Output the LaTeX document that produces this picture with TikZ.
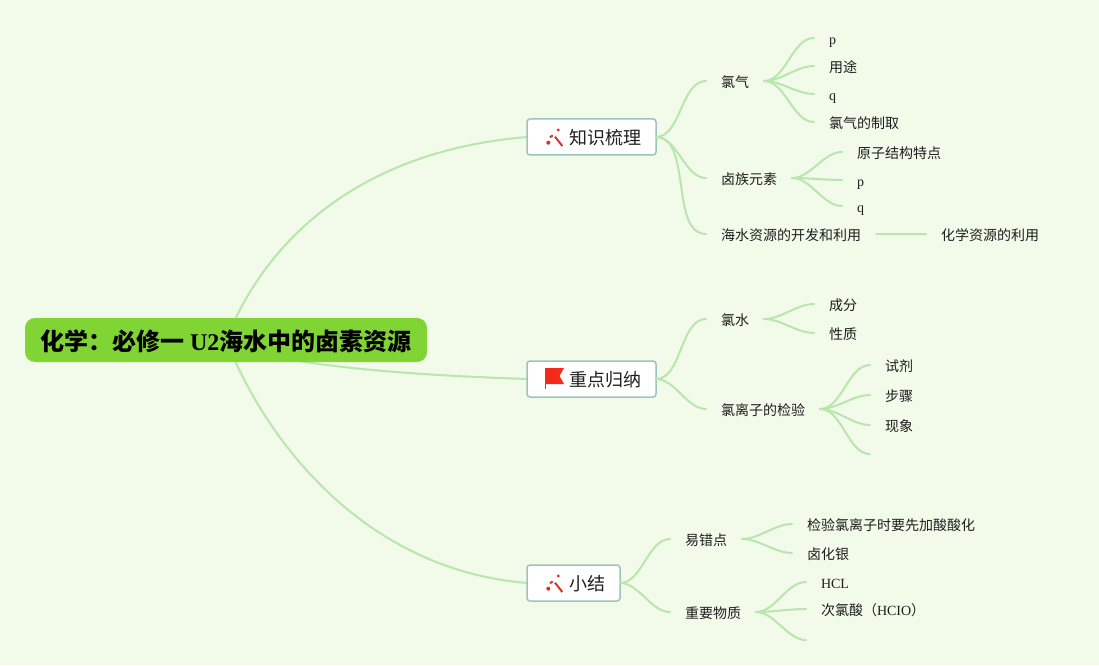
\documentclass[tikz,border=0pt]{standalone}
\usepackage{xcolor}
\usepackage{fontspec}
\setmainfont{Liberation Serif}
\newfontfamily\cjk{Noto Sans CJK SC}
\usetikzlibrary{positioning, backgrounds}
\definecolor{paper}{HTML}{F2FAEA}
\definecolor{rootgreen}{HTML}{80D535}
\definecolor{linkgreen}{HTML}{B9E6AC}
\definecolor{boxedge}{HTML}{9CC4BC}
\definecolor{inkdark}{HTML}{1E1E1E}
\definecolor{iconred}{HTML}{D0352B}
\definecolor{flagred}{HTML}{F5291A}
\newcommand{\lat}[1]{{\rmfamily #1}}

\begin{document}
\begin{tikzpicture}[
        x=1pt, y=1pt,
        node distance=50pt,
        rootnode/.style={rectangle, rounded corners=10pt, fill=rootgreen, minimum width=402pt, minimum height=44pt, inner sep=0pt, outer sep=0pt, text height=21pt, text depth=0pt, text=black, font=\cjk\bfseries\fontsize{24}{28}\selectfont},
        topic/.style={rectangle, rounded corners=3pt, draw=boxedge, line width=1.5pt, fill=white, minimum height=36pt, inner xsep=15pt, inner ysep=0pt, outer sep=0pt, text height=16pt, text depth=0.6pt, text=inkdark, font=\cjk\fontsize{18}{22}\selectfont},
        leaf/.style={inner xsep=15pt, inner ysep=0pt, outer sep=0pt, text height=14pt, text depth=0.5pt, text=inkdark, font=\cjk\fontsize{14}{16}\selectfont},
        link/.style={draw=linkgreen, line width=2pt, line cap=round, out=0, in=180, looseness=0.85},
        trunk/.style={draw=linkgreen, line width=2pt},
        wand/.pic={
            \draw[iconred, line width=2pt] (0,0.3) -- (7.3,-9);
            \draw[iconred, line width=2pt] (-5,-0.3) -- (-2.3,1.7);
            \fill[iconred] (3.3,7) circle (1.6pt);
            \fill[iconred] (-6.7,-5.7) circle (2pt);
        },
        redflag/.pic={
            \draw[flagred, line width=1pt] (0,11) -- (0,-10);
            \fill[flagred] (0,11) -- (19,11) -- (14.5,3) -- (19,-5) -- (0,-5) -- cycle;
        }
    ]
        \useasboundingbox (0,0) rectangle (1099,665);

        % Root
        \node[rootnode] (root) at (226,325) {化学：必修一 \lat{U2}海水中的卤素资源};

        % Main topics
        \node[topic, right=100pt of root, yshift=203pt] (know) {\hspace*{27pt}知识梳理};
        \node[topic, right=100pt of root, yshift=-39pt] (focus) {\hspace*{27pt}重点归纳};
        \node[topic, right=100pt of root, yshift=-243pt] (summary) {\hspace*{27pt}小结};

        % Icons
        \pic at ([xshift=28pt]know.west) {wand};
        \pic at ([xshift=18pt]focus.west) {redflag};
        \pic at ([xshift=28pt]summary.west) {wand};

        % First topic
        \node[leaf, right=of know, yshift=56pt] (chlorine) {氯气};
        \node[leaf, right=of chlorine, yshift=43pt] (clp) {\lat{p}};
        \node[leaf, right=of chlorine, yshift=15pt] (cluse) {用途};
        \node[leaf, right=of chlorine, yshift=-13pt] (clq) {\lat{q}};
        \node[leaf, right=of chlorine, yshift=-41pt] (clmake) {氯气的制取};
        \node[leaf, right=of know, yshift=-41pt] (halogen) {卤族元素};
        \node[leaf, right=of halogen, yshift=26pt] (atom) {原子结构特点};
        \node[leaf, right=of halogen, yshift=-2pt] (halp) {\lat{p}};
        \node[leaf, right=of halogen, yshift=-28pt] (halq) {\lat{q}};
        \node[leaf, right=of know, yshift=-97pt] (sea) {海水资源的开发和利用};
        \node[leaf, right=of sea] (resource) {化学资源的利用};

        % Second topic
        \node[leaf, right=of focus, yshift=60pt] (water) {氯水};
        \node[leaf, right=of water, yshift=15pt] (part) {成分};
        \node[leaf, right=of water, yshift=-14pt] (nature) {性质};
        \node[leaf, right=of focus, yshift=-30pt] (test) {氯离子的检验};
        \node[leaf, right=of test, yshift=44pt] (reagent) {试剂};
        \node[leaf, right=of test, yshift=14pt] (steps) {步骤};
        \node[leaf, right=of test, yshift=-16pt] (seen) {现象};
        \coordinate[right=of test, yshift=-45pt] (testend);

        % Third topic
        \node[leaf, right=of summary, yshift=44pt] (mistake) {易错点};
        \node[leaf, right=of mistake, yshift=15pt] (acid) {检验氯离子时要先加酸酸化};
        \node[leaf, right=of mistake, yshift=-14pt] (silver) {卤化银};
        \node[leaf, right=of summary, yshift=-29pt] (matter) {重要物质};
        \node[leaf, right=of matter, yshift=30pt] (hcl) {\lat{HCL}};
        \node[leaf, right=of matter, yshift=3pt] (hclo) {次氯酸（\lat{HCIO}）};
        \coordinate[right=of matter, yshift=-28pt] (matterend);

        % Paper and trunks, behind everything
        \begin{scope}[on background layer]
            \fill[paper] (0,0) rectangle (1099,665);
            \draw[trunk] (root.center) .. controls +(44,110) and +(-157,-13) .. (know.west);
            \draw[trunk] (root.center) .. controls +(40,-25) and +(-120,4) .. (focus.west);
            \draw[trunk] (root.center) .. controls +(44,-110) and +(-157,13) .. (summary.west);
        \end{scope}

        % Links
        \draw[link] (know.east) to (chlorine.west);
        \draw[link] (know.east) to (halogen.west);
        \draw[link] (know.east) to (sea.west);
        \draw[link] (chlorine.east) to (clp.west);
        \draw[link] (chlorine.east) to (cluse.west);
        \draw[link] (chlorine.east) to (clq.west);
        \draw[link] (chlorine.east) to (clmake.west);
        \draw[link] (halogen.east) to (atom.west);
        \draw[link] (halogen.east) to (halp.west);
        \draw[link] (halogen.east) to (halq.west);
        \draw[link] (sea.east) to (resource.west);
        \draw[link] (focus.east) to (water.west);
        \draw[link] (focus.east) to (test.west);
        \draw[link] (water.east) to (part.west);
        \draw[link] (water.east) to (nature.west);
        \draw[link] (test.east) to (reagent.west);
        \draw[link] (test.east) to (steps.west);
        \draw[link] (test.east) to (seen.west);
        \draw[link] (test.east) to (testend);
        \draw[link] (summary.east) to (mistake.west);
        \draw[link] (summary.east) to (matter.west);
        \draw[link] (mistake.east) to (acid.west);
        \draw[link] (mistake.east) to (silver.west);
        \draw[link] (matter.east) to (hcl.west);
        \draw[link] (matter.east) to (hclo.west);
        \draw[link] (matter.east) to (matterend);

    \end{tikzpicture}
\end{document}
